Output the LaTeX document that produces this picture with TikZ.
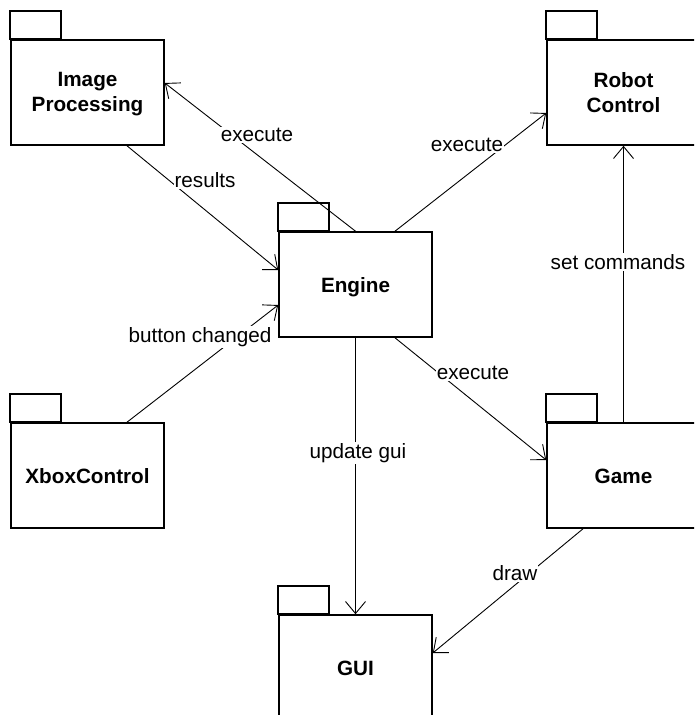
\documentclass[tikz,border=0pt]{standalone}
\usepackage{fontspec}
\setmainfont{Liberation Sans}
\usetikzlibrary{arrows.meta,calc}
\begin{document}
\begin{tikzpicture}[x=1pt,y=-1pt,
  pkg/.style={draw,line width=1.6pt,minimum width=153pt,minimum height=105pt,
    inner sep=0pt,align=center,font=\fontsize{20.7}{25}\selectfont\bfseries,
    execute at begin node={\rule{0pt}{16pt}},execute at end node={\rule[-1pt]{0pt}{1pt}}},
  tabline/.style={line width=1.6pt},
  conn/.style={line width=0.9pt,-{Straight Barb[length=12pt,width=20pt,line width=0.9pt]}},
  lbl/.style={fill=white,inner sep=1pt,font=\fontsize{20.7}{25}\selectfont}]
\clip (0,0) rectangle (694,715);
\fill[white] (0,0) rectangle (694,715);
% packages
\node[pkg] (ip)  at (87.5,92.5)  {Image\\\smash{Processing}};
\node[pkg] (rc)  at (623.5,92.5) {Robot\\\smash{Control}};
\node[pkg] (eng) at (355.5,284.5) {\smash{Engine}};
\node[pkg] (xb)  at (87.5,475.5) {\smash{XboxControl}};
\node[pkg] (gm)  at (623.5,475.5) {\smash{Game}};
\node[pkg] (gui) at (355.5,667.5) {\smash{GUI}};
\foreach \n in {ip,rc,eng,xb,gm,gui}
  \draw[tabline] (\n.north west) rectangle ++(51,-28);
% connectors
\draw[conn] (eng.north) -- ($(ip.east)+(0,-9.5)$);
\draw[conn] ($(ip.south)+(39.5,0)$) -- ($(eng.west)+(0,-14.5)$);
\draw[conn] ($(eng.north)+(39.5,0)$) -- ($(rc.west)+(0,20.5)$);
\draw[conn] ($(xb.north)+(39.5,0)$) -- ($(eng.west)+(0,20.5)$);
\draw[conn] ($(eng.south)+(39.5,0)$) -- ($(gm.west)+(0,-15.5)$);
\draw[conn] (eng.south) -- (gui.north);
\draw[conn] (gm.north) -- (rc.south);
\draw[conn] ($(gm.south)+(-40.5,0)$) -- ($(gui.east)+(0,-14.5)$);
% labels
\node[lbl] (l1) at (257,135) {execute};
\node[lbl] (l2) at (205,180) {results};
\node[lbl] (l3) at (467,145) {execute};
\node[lbl] (l4) at (200,337) {button changed};
\node[lbl] (l5) at (473,373) {execute};
\node[lbl] (l6) at (358,453) {update gui};
\node[lbl] (l7) at (618,262) {set commands};
\node[lbl] (l8) at (515,573) {draw};
\end{tikzpicture}
\end{document}
